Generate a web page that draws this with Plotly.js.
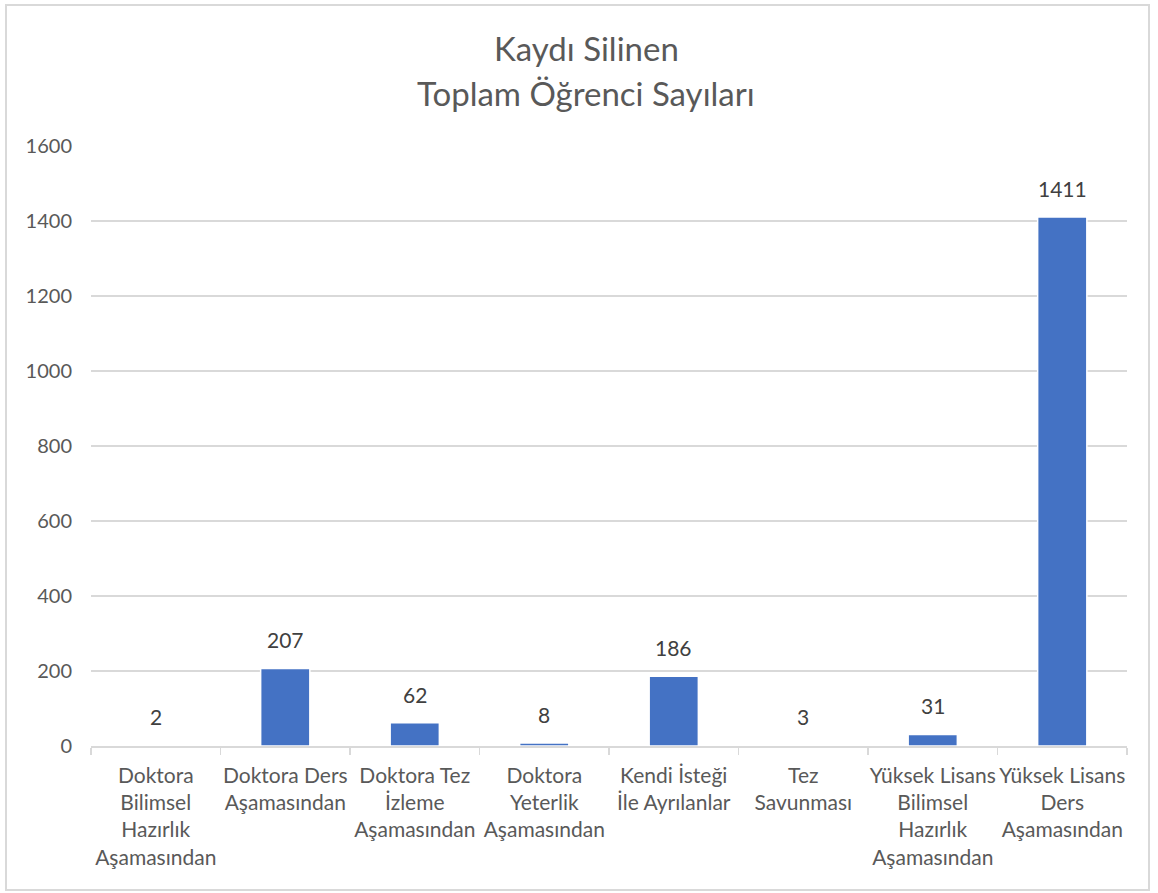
<!DOCTYPE html>
<html>
<head>
<meta charset="utf-8">
<script src="https://cdn.plot.ly/plotly-3.0.1.min.js"></script>
<style>
html,body{margin:0;padding:0;background:#fff;}
#chart{width:1158px;height:893px;}
</style>
</head>
<body>
<div id="chart"></div>
<script>
const categories = [
  "Doktora<br>Bilimsel<br>Hazırlık<br>Aşamasından",
  "Doktora Ders<br>Aşamasından",
  "Doktora Tez<br>İzleme<br>Aşamasından",
  "Doktora<br>Yeterlik<br>Aşamasından",
  "Kendi İsteği<br>İle Ayrılanlar",
  "Tez<br>Savunması",
  "Yüksek Lisans<br>Bilimsel<br>Hazırlık<br>Aşamasından",
  "Yüksek Lisans<br>Ders<br>Aşamasından"
];
const values = [2, 207, 62, 8, 186, 3, 31, 1411];
const titleLines = ["Kaydı Silinen", "Toplam Öğrenci Sayıları"];

const FONT = "Lato, 'Open Sans', sans-serif";
const TXT = "#595959";
const GRID = "#d9d9d9";

const trace = {
  type: "bar",
  x: categories,
  y: values,
  marker: {color: "#4472C4", line: {color: "#ffffff", width: 1.5}},
  hoverinfo: "none"
};

const labelAnnots = categories.map((c, i) => ({
  x: c, y: values[i], xref: "x", yref: "y",
  text: String(values[i]),
  showarrow: false, yanchor: "bottom", yshift: 14,
  font: {family: FONT, size: 21, color: "#404040"}
}));

const L = 91, R = 31, T = 146, B = 147, W = 1158, H = 893;
const pw = W - L - R, ph = H - T - B;
const titleAnnots = [
  {text: titleLines[0], x: (586 - L) / pw, y: (H - B - 48) / ph},
  {text: titleLines[1], x: (586 - L) / pw, y: (H - B - 93) / ph}
].map(a => Object.assign(a, {
  xref: "paper", yref: "paper", showarrow: false,
  xanchor: "center", yanchor: "middle",
  font: {family: FONT, size: 33, color: TXT}
}));

const layout = {
  width: W, height: H,
  margin: {l: L, r: R, t: T, b: B},
  paper_bgcolor: "#ffffff", plot_bgcolor: "#ffffff",
  showlegend: false,
  bargap: 0.62,
  font: {family: FONT, color: TXT},
  xaxis: {
    type: "category",
    showline: true, linecolor: GRID, linewidth: 1.5,
    ticks: "outside", tickson: "boundaries", ticklen: 7, tickcolor: GRID, tickwidth: 1.5,
    tickangle: 0,
    ticklabelstandoff: 10,
    tickfont: {family: FONT, size: 21, color: TXT},
    showgrid: false, fixedrange: true
  },
  yaxis: {
    range: [0, 1600], dtick: 200, tick0: 0,
    showgrid: true, gridcolor: GRID, gridwidth: 1.5,
    zeroline: false, showline: false, ticks: "",
    ticklabelstandoff: 18,
    tickfont: {family: FONT, size: 20, color: TXT},
    fixedrange: true
  },
  annotations: labelAnnots.concat(titleAnnots),
  shapes: [{
    type: "rect", xref: "paper", yref: "paper",
    x0: (6 - L) / pw, x1: (1149 - L) / pw,
    y0: (H - B - 890) / ph, y1: (H - B - 5) / ph,
    line: {color: GRID, width: 2}, fillcolor: "rgba(0,0,0,0)", layer: "below"
  }]
};

Plotly.newPlot("chart", [trace], layout, {staticPlot: true, displayModeBar: false});
</script>
</body>
</html>
